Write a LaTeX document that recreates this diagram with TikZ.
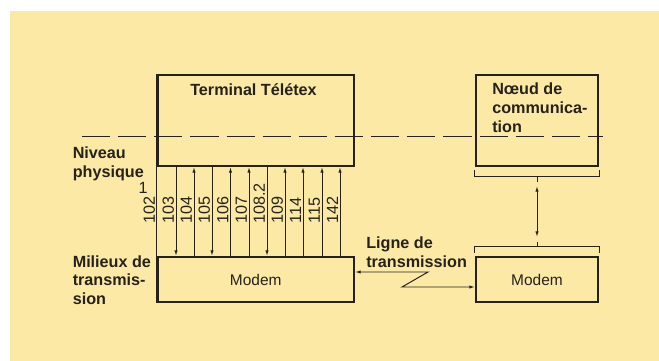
\documentclass[tikz,border=0pt]{standalone}
\usepackage{fontspec}
\setmainfont{Liberation Sans}
\usetikzlibrary{calc, arrows.meta}
\definecolor{papier}{RGB}{252,233,166}
\definecolor{encre}{RGB}{38,34,26}
\tikzset{>={Latex[length=4pt,width=2.4pt]}}

\begin{document}
\begin{tikzpicture}[x=0.025cm, y=-0.025cm, encre,
  bloc/.style={draw, line width=1.5pt, inner sep=0pt, font=\fontsize{11}{13}\selectfont},
  fil/.style={line width=0.7pt},
  num/.style={rotate=90, anchor=south west, inner sep=0.8pt, font=\fontsize{11.5}{13}\selectfont},
  lbl/.style={align=left, anchor=north west, inner sep=0pt, font=\fontsize{11.5}{13.5}\selectfont\bfseries}]
\useasboundingbox (0,0) rectangle (659,361);
\fill[papier] (10,11) rectangle (659,361);

% boites
\node[bloc, minimum width=196.5*0.025cm, minimum height=91*0.025cm] (term) at (255.75,120.5) {};
\node[bloc, minimum width=196.5*0.025cm, minimum height=45*0.025cm] (modemA) at (255.75,279.5) {Modem};
\node[bloc, minimum width=122*0.025cm, minimum height=91*0.025cm] (noeud) at (537,120.5) {};
\node[bloc, minimum width=122*0.025cm, minimum height=45*0.025cm] (modemB) at (537,279.5) {Modem};

\node[lbl, anchor=base] (termtxt) at (253.5,96) {Terminal Télétex};
\node[lbl] (noeudtxt) at (492,83) {Nœud de\\communica-\\tion};
\node[lbl] (niveau) at (72.5,147) {Niveau\\physique};
\node[lbl] (milieux) at (72.5,255) {Milieux de\\transmis-\\sion};
\node[lbl] (ligne) at (366,237) {Ligne de\\transmission};

% niveau physique
\draw[line width=0.6pt, dash pattern=on 20pt off 5.7pt] (82,136) -- (603,136);

% circuits
\draw[fil] (term.south west) -- (modemA.north west);
\node[num] (c102) at (156.5,225) {102};
\node[inner sep=0pt, font=\fontsize{11.5}{13}\selectfont] (c1) at (143,188) {1};
\foreach \x/\num/\tip in {176/103/->, 194/104/<-, 212/105/->, 230.5/106/<-, 249/107/<-,
  267/108.2/->, 285/109/<-, 303/114/<-, 322/115/<-, 340/142/<-}
{
  \draw[fil,\tip] (\x,0 |- term.south) -- (\x,0 |- modemA.north);
  \node[num] at (\x-0.5,225) {\num};
}

% liaison noeud - modem
\draw[fil] ($(noeud.south west)+(0,3)$) -- ++(0,6) coordinate (bn) -| ($(noeud.south east)+(0,3)$);
\draw[fil] (bn -| noeud.south) -- ++(0,6);
\draw[fil,<->] ($(noeud.south)+(0,19)$) -- ($(modemB.north)+(0,-19)$);
\draw[fil] ($(modemB.north west)+(0,-3)$) -- ++(0,-6) coordinate (bm) -| ($(modemB.north east)+(0,-3)$);
\draw[fil] (bm -| modemB.north) -- ++(0,-5);

% ligne de transmission
\coordinate (zh) at (428,272);
\coordinate (zb) at (402,287);
\draw[fil,<->] (zh -| modemA.east) -- (zh) -- (zb) -- (zb -| modemB.west);
\end{tikzpicture}
\end{document}
